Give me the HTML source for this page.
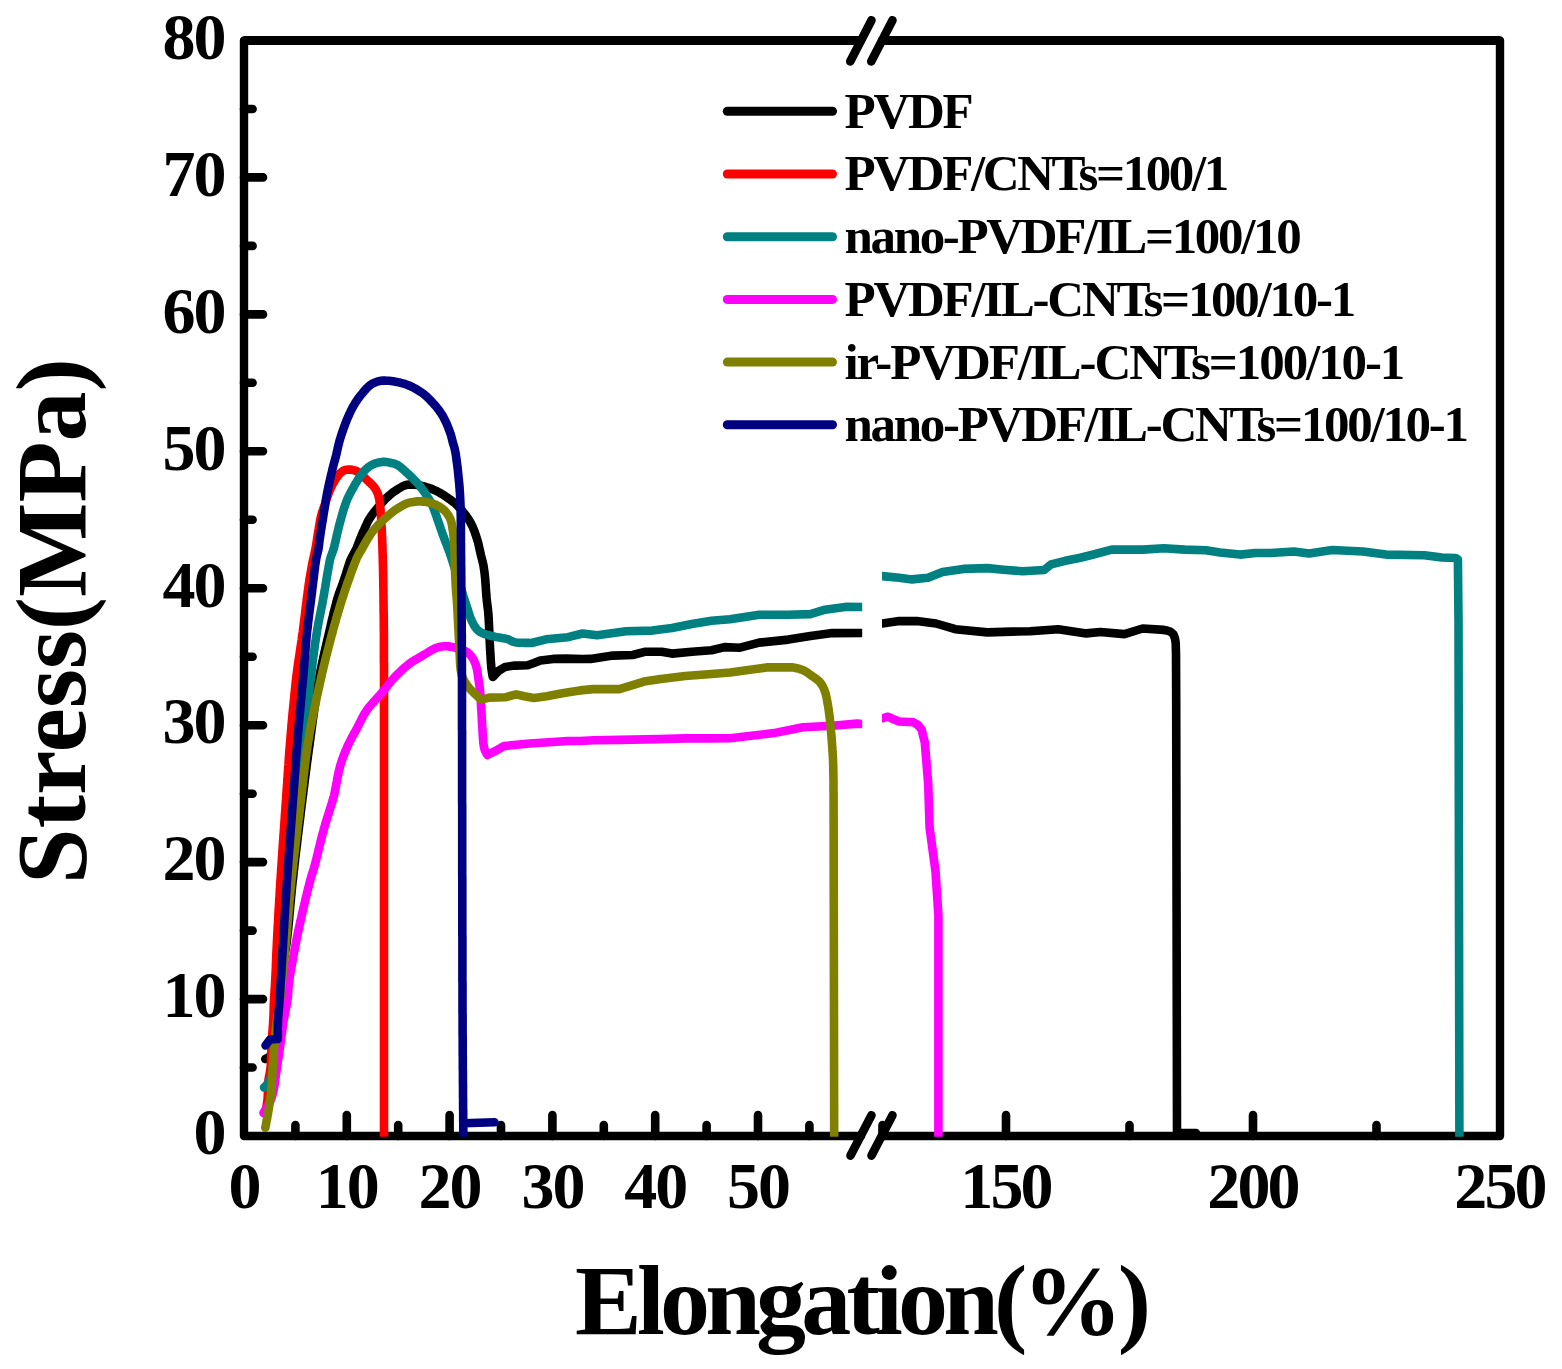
<!DOCTYPE html>
<html><head><meta charset="utf-8"><title>Stress-Elongation</title><style>html,body{margin:0;padding:0;background:#fff;}svg{display:block;}</style></head><body>
<svg width="1562" height="1369" viewBox="0 0 1562 1369">
<defs><clipPath id="c1"><rect x="0" y="0" width="862.2" height="1136.7"/></clipPath><clipPath id="c2"><rect x="882" y="0" width="700" height="1136.7"/></clipPath></defs>
<rect width="100%" height="100%" fill="#fff"/>
<path d="M861,40.5 L244.0,40.5 L244.0,1136.0 L861,1136.0" fill="none" stroke="#000" stroke-linecap="round" stroke-linejoin="round" stroke-width="8.4"/>
<path d="M882,40.5 L1500.0,40.5 L1500.0,1136.0 L882,1136.0" fill="none" stroke="#000" stroke-linecap="round" stroke-linejoin="round" stroke-width="8.4"/>
<path d="M244.0,40.5 L861,40.5 M882,40.5 L1500.0,40.5" stroke="#000" stroke-width="9" fill="none"/>
<line x1="850.2" y1="61.5" x2="871.5" y2="20.2" stroke="#000" stroke-width="8.6" stroke-linecap="round"/>
<line x1="871.2" y1="61.5" x2="892.5" y2="20.2" stroke="#000" stroke-width="8.6" stroke-linecap="round"/>
<line x1="850.5" y1="1155.6" x2="871.5" y2="1115.2" stroke="#000" stroke-width="8.6" stroke-linecap="round"/>
<line x1="871.5" y1="1155.6" x2="892.5" y2="1115.2" stroke="#000" stroke-width="8.6" stroke-linecap="round"/>
<path d="M244.0,1067.5 L252.6,1067.5 M244.0,999.1 L263,999.1 M244.0,930.6 L252.6,930.6 M244.0,862.1 L263,862.1 M244.0,793.7 L252.6,793.7 M244.0,725.2 L263,725.2 M244.0,656.7 L252.6,656.7 M244.0,588.2 L263,588.2 M244.0,519.8 L252.6,519.8 M244.0,451.3 L263,451.3 M244.0,382.8 L252.6,382.8 M244.0,314.4 L263,314.4 M244.0,245.9 L252.6,245.9 M244.0,177.4 L263,177.4 M244.0,109.0 L252.6,109.0 M295.4,1136.0 L295.4,1125 M346.8,1136.0 L346.8,1115 M398.2,1136.0 L398.2,1125 M449.6,1136.0 L449.6,1115 M501.0,1136.0 L501.0,1125 M552.4,1136.0 L552.4,1115 M603.8,1136.0 L603.8,1125 M655.2,1136.0 L655.2,1115 M706.6,1136.0 L706.6,1125 M758.0,1136.0 L758.0,1115 M809.4,1136.0 L809.4,1125 M882.5,1136.0 L882.5,1125 M1006.0,1136.0 L1006.0,1115 M1129.5,1136.0 L1129.5,1125 M1253.0,1136.0 L1253.0,1115 M1376.5,1136.0 L1376.5,1125" stroke="#000" stroke-width="8.6" stroke-linecap="round" fill="none"/>
<path d="M265.3,1059.0 L267.1,1058.2 L268.7,1057.2 L270.1,1055.8 L271.1,1054.2 L271.9,1052.4 L272.4,1050.5 L272.9,1048.5 L273.2,1046.6 L273.5,1044.6 L273.8,1042.6 L274.1,1040.6 L274.3,1038.6 L274.5,1036.6 L274.7,1034.6 L274.9,1032.6 L275.1,1030.6 L275.2,1028.6 L275.4,1026.6 L275.6,1024.6 L275.8,1022.7 L275.9,1020.7 L276.1,1018.7 L276.2,1016.7 L276.4,1014.7 L276.5,1012.7 L276.6,1010.7 L276.7,1008.7 L276.9,1006.7 L277.0,1004.7 L277.2,1002.7 L277.4,1000.7 L277.6,998.7 L277.8,996.7 L278.1,994.7 L278.3,992.7 L278.5,990.7 L278.8,988.7 L279.0,986.7 L279.3,984.8 L279.6,982.8 L279.9,980.8 L280.2,978.8 L280.5,976.8 L280.9,974.9 L281.2,972.9 L281.6,970.9 L282.0,969.0 L282.4,967.0 L282.8,965.0 L283.1,963.1 L283.5,961.1 L283.9,959.1 L284.3,957.2 L284.6,955.2 L285.0,953.2 L285.3,951.2 L285.6,949.3 L285.9,947.3 L286.2,945.3 L286.5,943.3 L286.7,941.3 L287.0,939.3 L287.2,937.3 L287.5,935.4 L287.7,933.4 L287.9,931.4 L288.1,929.4 L288.3,927.4 L288.5,925.4 L288.7,923.4 L288.9,921.4 L289.1,919.4 L289.2,917.4 L289.4,915.4 L289.6,913.4 L289.8,911.4 L290.0,909.4 L290.1,907.4 L290.3,905.4 L290.5,903.4 L290.7,901.4 L290.9,899.4 L291.0,897.4 L291.2,895.5 L291.4,893.5 L291.6,891.5 L291.8,889.5 L292.0,887.5 L292.2,885.5 L292.4,883.5 L292.6,881.5 L292.9,879.5 L293.1,877.5 L293.3,875.5 L293.5,873.5 L293.7,871.5 L294.0,869.6 L294.2,867.6 L294.4,865.6 L294.7,863.6 L294.9,861.6 L295.1,859.6 L295.3,857.6 L295.6,855.6 L295.8,853.6 L296.0,851.6 L296.3,849.6 L296.5,847.7 L296.8,845.7 L297.0,843.7 L297.2,841.7 L297.5,839.7 L297.7,837.7 L297.9,835.7 L298.2,833.7 L298.4,831.7 L298.7,829.8 L298.9,827.8 L299.1,825.8 L299.4,823.8 L299.6,821.8 L299.9,819.8 L300.1,817.8 L300.4,815.8 L300.6,813.8 L300.8,811.8 L301.1,809.9 L301.3,807.9 L301.6,805.9 L301.8,803.9 L302.1,801.9 L302.3,799.9 L302.6,797.9 L302.8,795.9 L303.1,794.0 L303.3,792.0 L303.5,790.0 L303.8,788.0 L304.1,786.0 L304.3,784.0 L304.6,782.0 L304.8,780.0 L305.1,778.0 L305.3,776.1 L305.6,774.1 L305.8,772.1 L306.1,770.1 L306.4,768.1 L306.6,766.1 L306.9,764.1 L307.1,762.2 L307.4,760.2 L307.7,758.2 L307.9,756.2 L308.2,754.2 L308.5,752.2 L308.7,750.2 L309.0,748.3 L309.3,746.3 L309.6,744.3 L309.8,742.3 L310.1,740.3 L310.4,738.3 L310.6,736.3 L310.9,734.4 L311.2,732.4 L311.4,730.4 L311.7,728.4 L312.0,726.4 L312.2,724.4 L312.5,722.4 L312.8,720.5 L313.0,718.5 L313.3,716.5 L313.6,714.5 L313.9,712.5 L314.1,710.5 L314.4,708.5 L314.7,706.6 L315.0,704.6 L315.3,702.6 L315.5,700.6 L315.8,698.6 L316.1,696.6 L316.4,694.7 L316.7,692.7 L317.0,690.7 L317.3,688.7 L317.7,686.7 L318.0,684.8 L318.3,682.8 L318.7,680.8 L319.0,678.8 L319.4,676.9 L319.7,674.9 L320.1,672.9 L320.5,671.0 L320.9,669.0 L321.3,667.0 L321.7,665.1 L322.1,663.1 L322.5,661.2 L323.0,659.2 L323.4,657.2 L323.8,655.3 L324.3,653.3 L324.7,651.4 L325.2,649.4 L325.6,647.5 L326.1,645.5 L326.5,643.6 L327.0,641.6 L327.5,639.7 L327.9,637.7 L328.4,635.8 L328.8,633.8 L329.3,631.9 L329.7,629.9 L330.1,628.0 L330.6,626.0 L331.0,624.1 L331.5,622.1 L331.9,620.1 L332.4,618.2 L332.9,616.2 L333.3,614.3 L333.8,612.3 L334.3,610.4 L334.8,608.5 L335.3,606.5 L335.8,604.6 L336.3,602.6 L336.8,600.7 L337.4,598.8 L338.0,596.9 L338.6,595.0 L339.2,593.1 L339.9,591.2 L340.6,589.3 L341.3,587.4 L342.0,585.5 L342.7,583.7 L343.4,581.8 L344.0,579.9 L344.6,578.0 L345.3,576.1 L345.9,574.2 L346.5,572.3 L347.1,570.3 L347.7,568.4 L348.3,566.5 L348.9,564.6 L349.5,562.7 L350.2,560.8 L351.0,559.0 L351.9,557.2 L352.8,555.4 L353.8,553.7 L354.7,551.9 L355.6,550.1 L356.5,548.3 L357.2,546.5 L358.0,544.6 L358.7,542.7 L359.4,540.9 L360.1,539.0 L360.9,537.1 L361.6,535.3 L362.4,533.4 L363.2,531.6 L364.1,529.8 L364.9,528.0 L365.7,526.1 L366.6,524.3 L367.4,522.5 L368.3,520.7 L369.3,519.0 L370.4,517.3 L371.5,515.6 L372.7,514.0 L373.9,512.4 L375.2,510.9 L376.4,509.3 L377.7,507.8 L379.0,506.2 L380.3,504.7 L381.6,503.2 L382.9,501.7 L384.3,500.2 L385.7,498.8 L387.1,497.4 L388.6,496.0 L390.1,494.7 L391.6,493.4 L393.2,492.2 L394.9,491.1 L396.5,490.0 L398.3,488.9 L400.0,487.9 L401.7,486.9 L403.4,485.9 L405.2,485.2 L407.2,484.8 L409.1,484.6 L411.1,484.6 L413.1,484.6 L415.1,484.8 L417.1,485.1 L419.1,485.4 L421.0,485.8 L423.0,486.2 L424.9,486.7 L426.9,487.3 L428.8,487.9 L430.7,488.5 L432.5,489.3 L434.3,490.1 L436.2,490.9 L437.9,491.8 L439.7,492.8 L441.4,493.8 L443.2,494.8 L444.8,495.9 L446.5,497.0 L448.1,498.2 L449.8,499.3 L451.4,500.5 L453.0,501.7 L454.6,502.9 L456.1,504.3 L457.5,505.7 L458.9,507.1 L460.2,508.6 L461.5,510.1 L462.8,511.6 L464.1,513.2 L465.4,514.8 L466.5,516.4 L467.7,518.0 L468.7,519.7 L469.8,521.4 L470.8,523.2 L471.7,524.9 L472.6,526.7 L473.4,528.6 L474.1,530.4 L474.8,532.3 L475.4,534.2 L476.1,536.1 L476.7,538.0 L477.3,539.9 L477.9,541.8 L478.4,543.8 L478.8,545.7 L479.2,547.7 L479.7,549.6 L480.1,551.6 L480.6,553.6 L481.0,555.5 L481.5,557.4 L482.0,559.4 L482.5,561.3 L483.0,563.3 L483.4,565.2 L483.7,567.2 L484.0,569.2 L484.3,571.2 L484.6,573.2 L484.8,575.2 L485.0,577.1 L485.2,579.1 L485.3,581.1 L485.5,583.1 L485.6,585.1 L485.8,587.1 L485.9,589.1 L486.0,591.1 L486.2,593.1 L486.3,595.1 L486.5,597.1 L486.7,599.1 L486.9,601.1 L487.1,603.1 L487.4,605.1 L487.6,607.1 L487.9,609.1 L488.1,611.1 L488.3,613.1 L488.4,615.1 L488.6,617.0 L488.7,619.0 L488.8,621.1 L488.9,623.1 L489.0,625.1 L489.1,627.1 L489.2,629.1 L489.3,631.1 L489.3,633.1 L489.4,635.1 L489.5,637.1 L489.6,639.1 L489.7,641.1 L489.8,643.1 L489.9,645.1 L490.0,647.1 L490.1,649.1 L490.2,651.1 L490.3,653.1 L490.5,655.1 L490.6,657.1 L490.7,659.1 L490.8,661.1 L491.0,663.1 L491.1,665.1 L491.3,667.1 L491.5,669.1 L491.8,671.0 L492.1,673.0 L492.4,675.0 L492.8,677.0 L498.8,670.7 L505.2,666.9 L514.8,665.6 L527.6,665.3 L534.0,663.0 L540.4,660.5 L553.2,658.9 L566.0,658.6 L582.6,659.0 L590.5,658.9 L612.9,655.6 L632.6,655.0 L645.7,651.7 L661.5,651.7 L672.0,653.6 L691.8,651.7 L711.5,650.3 L724.6,647.1 L740.0,647.7 L759.2,642.6 L788.4,639.6 L810.4,636.0 L832.3,633.1 L870.0,633.0" fill="none" stroke="#000000" stroke-width="8.6" stroke-linejoin="round" stroke-linecap="round" clip-path="url(#c1)"/>
<path d="M876.0,623.5 L882.2,623.5 L899.1,621.1 L916.8,621.1 L936.0,623.5 L955.3,629.2 L987.4,632.4 L1011.5,631.6 L1030.0,631.3 L1058.2,629.2 L1086.3,633.4 L1100.4,632.0 L1124.4,634.1 L1142.7,628.5 L1163.8,629.9 L1167.0,630.5 L1170.7,631.8 L1173.5,634.4 L1175.0,638.5 L1175.7,643.0 L1176.0,654.0 L1176.2,700.0 L1177.0,1133.0 L1196.0,1133.0" fill="none" stroke="#000000" stroke-width="8.6" stroke-linejoin="round" stroke-linecap="round" clip-path="url(#c2)"/>
<path d="M265.3,1112.5 L265.7,1110.5 L266.1,1108.6 L266.5,1106.6 L266.8,1104.6 L267.1,1102.7 L267.4,1100.7 L267.6,1098.7 L267.7,1096.7 L267.8,1094.7 L267.9,1092.7 L267.9,1090.7 L268.0,1088.7 L268.1,1086.7 L268.1,1084.7 L268.2,1082.7 L268.4,1080.7 L268.7,1078.7 L269.0,1076.7 L269.4,1074.8 L269.8,1072.8 L270.2,1070.9 L270.4,1068.9 L270.6,1066.9 L270.8,1064.9 L270.9,1062.9 L271.0,1060.9 L271.0,1058.9 L271.1,1056.9 L271.2,1054.9 L271.3,1052.9 L271.4,1050.9 L271.5,1048.9 L271.6,1046.9 L271.7,1044.9 L271.8,1042.9 L271.9,1040.9 L272.0,1038.9 L272.1,1036.9 L272.2,1034.9 L272.4,1032.9 L272.5,1030.9 L272.7,1028.9 L272.8,1026.9 L273.0,1024.9 L273.1,1022.9 L273.2,1020.9 L273.3,1018.9 L273.4,1016.9 L273.5,1014.9 L273.6,1012.9 L273.6,1010.9 L273.7,1008.9 L273.7,1006.9 L273.8,1004.9 L273.9,1002.9 L274.0,1000.9 L274.1,998.9 L274.2,996.9 L274.3,994.9 L274.5,992.9 L274.6,990.9 L274.7,988.9 L274.9,986.9 L275.0,984.9 L275.1,982.9 L275.2,981.0 L275.3,979.0 L275.4,977.0 L275.5,975.0 L275.6,973.0 L275.7,971.0 L275.8,969.0 L275.9,967.0 L275.9,965.0 L276.0,962.9 L276.1,960.9 L276.2,958.9 L276.3,956.9 L276.3,954.9 L276.4,952.9 L276.5,950.9 L276.6,948.9 L276.7,946.9 L276.8,944.9 L276.9,943.0 L277.0,941.0 L277.1,939.0 L277.2,937.0 L277.3,935.0 L277.4,933.0 L277.5,931.0 L277.6,929.0 L277.7,927.0 L277.9,925.0 L278.0,923.0 L278.1,921.0 L278.2,919.0 L278.3,917.0 L278.4,915.0 L278.5,913.0 L278.6,911.0 L278.7,909.0 L278.9,907.0 L279.0,905.0 L279.1,903.0 L279.2,901.0 L279.3,899.0 L279.5,897.0 L279.6,895.0 L279.7,893.0 L279.8,891.0 L279.9,889.0 L280.1,887.0 L280.2,885.0 L280.3,883.0 L280.4,881.0 L280.6,879.0 L280.7,877.0 L280.8,875.0 L281.0,873.0 L281.1,871.0 L281.2,869.0 L281.4,867.0 L281.5,865.0 L281.6,863.0 L281.8,861.0 L281.9,859.0 L282.0,857.0 L282.2,855.0 L282.3,853.0 L282.4,851.0 L282.6,849.0 L282.7,847.0 L282.8,845.0 L283.0,843.0 L283.1,841.0 L283.3,839.0 L283.4,837.0 L283.5,835.0 L283.7,833.1 L283.8,831.1 L284.0,829.1 L284.1,827.1 L284.2,825.1 L284.4,823.1 L284.5,821.1 L284.7,819.1 L284.8,817.1 L284.9,815.1 L285.1,813.1 L285.2,811.1 L285.4,809.1 L285.5,807.1 L285.6,805.1 L285.8,803.1 L285.9,801.1 L286.1,799.1 L286.2,797.1 L286.3,795.1 L286.5,793.1 L286.6,791.1 L286.7,789.1 L286.9,787.1 L287.0,785.1 L287.2,783.1 L287.3,781.1 L287.4,779.1 L287.6,777.1 L287.7,775.1 L287.8,773.1 L288.0,771.1 L288.1,769.1 L288.2,767.1 L288.4,765.1 L288.5,763.2 L288.7,761.2 L288.8,759.2 L288.9,757.2 L289.1,755.2 L289.2,753.2 L289.4,751.2 L289.5,749.2 L289.7,747.2 L289.9,745.2 L290.0,743.2 L290.2,741.2 L290.4,739.2 L290.5,737.2 L290.7,735.2 L290.9,733.2 L291.0,731.2 L291.2,729.2 L291.4,727.2 L291.5,725.2 L291.7,723.2 L291.9,721.2 L292.1,719.3 L292.3,717.3 L292.4,715.3 L292.6,713.3 L292.8,711.3 L293.0,709.3 L293.2,707.3 L293.4,705.3 L293.6,703.3 L293.8,701.3 L294.0,699.3 L294.2,697.3 L294.4,695.3 L294.6,693.3 L294.8,691.4 L295.0,689.4 L295.2,687.4 L295.4,685.4 L295.6,683.4 L295.8,681.4 L296.1,679.4 L296.3,677.4 L296.5,675.4 L296.8,673.5 L297.1,671.5 L297.3,669.5 L297.6,667.5 L297.9,665.5 L298.1,663.5 L298.4,661.6 L298.7,659.6 L299.0,657.6 L299.3,655.6 L299.6,653.6 L299.9,651.6 L300.2,649.7 L300.5,647.7 L300.8,645.7 L301.1,643.7 L301.4,641.7 L301.7,639.8 L301.9,637.8 L302.2,635.8 L302.5,633.8 L302.8,631.8 L303.0,629.9 L303.3,627.9 L303.5,625.9 L303.8,623.9 L304.0,621.9 L304.3,619.9 L304.5,617.9 L304.8,615.9 L305.0,614.0 L305.2,612.0 L305.5,610.0 L305.7,608.0 L306.0,606.0 L306.2,604.0 L306.5,602.0 L306.7,600.0 L306.9,598.1 L307.2,596.1 L307.5,594.1 L307.7,592.1 L308.0,590.1 L308.3,588.1 L308.5,586.2 L308.8,584.2 L309.1,582.2 L309.4,580.2 L309.7,578.2 L310.1,576.3 L310.4,574.3 L310.7,572.3 L311.1,570.3 L311.4,568.4 L311.8,566.4 L312.1,564.4 L312.5,562.5 L312.9,560.5 L313.4,558.6 L313.8,556.6 L314.3,554.7 L314.7,552.7 L315.1,550.7 L315.5,548.8 L315.8,546.8 L316.2,544.8 L316.5,542.9 L316.8,540.9 L317.1,538.9 L317.4,536.9 L317.7,534.9 L318.0,533.0 L318.3,531.0 L318.7,529.0 L319.0,527.0 L319.3,525.1 L319.7,523.1 L320.0,521.1 L320.4,519.2 L320.8,517.2 L321.3,515.3 L321.8,513.3 L322.4,511.4 L323.1,509.5 L323.8,507.6 L324.4,505.8 L325.1,503.9 L325.7,502.0 L326.3,500.1 L326.9,498.2 L327.6,496.3 L328.2,494.4 L328.9,492.5 L329.7,490.6 L330.5,488.8 L331.3,487.0 L332.2,485.2 L333.1,483.4 L334.1,481.7 L335.1,480.0 L336.2,478.3 L337.4,476.6 L338.6,475.0 L339.8,473.5 L341.3,472.2 L342.8,471.0 L344.6,470.2 L346.5,469.7 L348.5,469.5 L350.4,469.6 L352.4,469.8 L354.3,470.3 L356.2,470.9 L358.0,471.8 L359.6,472.9 L361.2,474.1 L362.6,475.5 L364.0,477.0 L365.4,478.4 L366.8,479.8 L368.3,481.2 L369.7,482.5 L371.2,483.9 L372.6,485.3 L373.9,486.8 L375.1,488.4 L376.1,490.1 L377.0,491.9 L377.8,493.7 L378.4,495.6 L378.9,497.6 L379.3,499.5 L379.6,501.5 L379.8,503.5 L380.1,505.5 L380.3,507.5 L380.5,509.5 L380.6,511.4 L380.8,513.4 L380.9,515.4 L381.1,517.4 L381.2,519.4 L381.3,521.4 L381.4,523.4 L381.5,525.4 L381.6,527.4 L381.7,529.4 L381.8,531.4 L381.9,533.4 L382.0,535.4 L382.1,537.4 L382.2,539.4 L382.2,541.4 L382.3,543.4 L382.4,545.4 L382.4,547.4 L382.5,549.4 L382.5,551.4 L382.6,553.4 L382.7,555.4 L382.7,557.4 L382.8,559.4 L382.8,561.4 L382.9,563.4 L382.9,565.4 L383.0,567.4 L383.0,569.4 L383.1,571.4 L383.1,573.4 L383.1,575.5 L383.2,577.5 L383.2,579.5 L383.3,581.5 L383.3,583.5 L383.3,585.5 L383.3,587.5 L383.4,589.5 L383.4,591.5 L383.4,593.5 L383.5,595.5 L383.5,597.5 L383.5,599.5 L383.5,601.5 L383.5,603.5 L383.6,605.5 L383.6,607.5 L383.6,609.5 L383.6,611.5 L383.7,613.5 L383.7,615.5 L383.7,617.5 L383.8,619.5 L383.8,621.5 L383.8,623.5 L383.8,625.5 L383.8,627.5 L383.8,629.5 L383.9,631.5 L383.9,633.5 L383.9,635.5 L383.9,637.5 L383.9,639.5 L383.9,641.5 L383.9,643.5 L383.9,645.5 L383.9,647.5 L383.9,649.5 L383.9,651.5 L383.9,653.5 L383.9,655.5 L383.9,657.5 L383.9,659.5 L383.9,661.5 L384.0,663.5 L384.0,665.5 L384.0,667.5 L384.0,669.5 L384.0,671.5 L384.0,673.5 L384.0,675.5 L384.0,677.5 L384.0,679.5 L384.0,681.6 L384.0,683.6 L384.0,685.6 L384.0,687.6 L384.0,689.6 L384.0,691.6 L384.0,693.6 L384.0,695.6 L384.0,697.6 L384.0,699.6 L384.0,701.6 L384.0,703.6 L384.0,705.6 L384.0,707.6 L384.0,709.6 L384.0,711.6 L384.0,713.6 L384.0,715.6 L384.0,717.6 L384.0,719.6 L384.0,721.6 L384.0,723.6 L384.0,725.6 L384.0,727.6 L384.0,729.6 L384.0,731.6 L384.0,733.6 L384.0,735.6 L384.0,737.6 L384.0,739.6 L384.0,741.6 L384.0,743.6 L384.0,745.6 L384.0,747.6 L384.0,749.6 L384.0,751.6 L384.0,753.6 L384.0,755.6 L384.0,757.6 L384.0,759.6 L384.0,761.6 L384.0,763.6 L384.0,765.6 L384.0,767.6 L384.0,769.6 L384.0,771.6 L384.0,773.6 L384.0,775.6 L384.0,777.6 L384.0,779.6 L384.0,781.6 L384.0,783.7 L384.0,785.7 L384.0,787.7 L384.0,789.7 L384.0,791.7 L384.0,793.7 L384.0,795.7 L384.0,797.7 L384.0,799.7 L384.0,801.7 L384.0,803.7 L384.0,805.7 L384.0,807.7 L384.0,809.7 L384.0,811.7 L384.0,813.7 L384.0,815.7 L384.0,817.7 L384.0,819.7 L384.0,821.7 L384.0,823.7 L384.0,825.7 L384.0,827.7 L384.0,829.7 L384.0,831.7 L384.0,833.7 L384.0,835.7 L384.0,837.7 L384.0,839.7 L384.0,841.7 L384.0,843.7 L384.0,845.7 L384.0,847.7 L384.0,849.7 L384.0,851.7 L384.0,853.7 L384.0,855.7 L384.0,857.7 L384.0,859.7 L384.0,861.7 L384.0,863.7 L384.0,865.7 L384.0,867.7 L384.0,869.7 L384.0,871.7 L384.0,873.7 L384.0,875.7 L384.0,877.7 L384.0,879.7 L384.0,881.7 L384.0,883.7 L384.0,885.8 L384.0,887.8 L384.0,889.8 L384.0,891.8 L384.0,893.8 L384.0,895.8 L384.0,897.8 L384.0,899.8 L384.0,901.8 L384.0,903.8 L384.0,905.8 L384.0,907.8 L384.0,909.8 L384.0,911.8 L384.0,913.8 L384.0,915.8 L384.0,917.8 L384.0,919.8 L384.0,921.8 L384.0,923.8 L384.0,925.8 L384.0,927.8 L384.0,929.8 L384.0,931.8 L384.0,933.8 L384.0,935.8 L384.0,937.8 L384.0,939.8 L384.0,941.8 L384.0,943.8 L384.0,945.8 L384.0,947.8 L384.0,949.8 L384.0,951.8 L384.0,953.8 L384.0,955.8 L384.0,957.8 L384.0,959.8 L384.0,961.8 L384.0,963.8 L384.0,965.8 L384.0,967.8 L384.0,969.8 L384.0,971.8 L384.0,973.8 L384.0,975.8 L384.0,977.8 L384.0,979.8 L384.0,981.8 L384.0,983.8 L384.0,985.8 L384.0,987.9 L384.0,989.9 L384.0,991.9 L384.0,993.9 L384.0,995.9 L384.0,997.9 L384.0,999.9 L384.0,1001.9 L384.0,1003.9 L384.0,1005.9 L384.0,1007.9 L384.0,1009.9 L384.0,1011.9 L384.0,1013.9 L384.0,1015.9 L384.0,1017.9 L384.0,1019.9 L384.0,1021.9 L384.0,1023.9 L384.0,1025.9 L384.0,1027.9 L384.0,1029.9 L384.0,1031.9 L384.0,1033.9 L384.0,1035.9 L384.0,1037.9 L384.0,1039.9 L384.0,1041.9 L384.0,1043.9 L384.0,1045.9 L384.0,1047.9 L384.0,1049.9 L384.0,1051.9 L384.0,1053.9 L384.0,1055.9 L384.0,1057.9 L384.0,1059.9 L384.0,1061.9 L384.0,1063.9 L384.0,1065.9 L384.0,1067.9 L384.0,1069.9 L384.0,1071.9 L384.0,1073.9 L384.0,1075.9 L384.0,1077.9 L384.0,1079.9 L384.0,1081.9 L384.0,1083.9 L384.0,1085.9 L384.0,1087.9 L384.0,1090.0 L384.0,1092.0 L384.0,1094.0 L384.0,1096.0 L384.0,1098.0 L384.0,1100.0 L384.0,1102.0 L384.0,1104.0 L384.0,1106.0 L384.0,1108.0 L384.0,1110.0 L384.0,1112.0 L384.0,1114.0 L384.0,1116.0 L384.0,1118.0 L384.0,1120.0 L384.0,1122.0 L384.0,1124.0 L384.0,1126.0 L384.0,1128.0 L384.0,1130.0 L384.0,1132.0 L384.0,1134.0 L384.0,1136.0 L384.0,1138.0 L384.0,1140.0" fill="none" stroke="#FF0000" stroke-width="8.6" stroke-linejoin="round" stroke-linecap="round" clip-path="url(#c1)"/>
<path d="M264.0,1087.5 L265.5,1086.1 L266.8,1084.7 L268.0,1083.1 L269.1,1081.4 L269.9,1079.6 L270.6,1077.8 L271.2,1075.9 L271.7,1073.9 L272.1,1072.0 L272.5,1070.0 L272.8,1068.0 L273.0,1066.0 L273.2,1064.0 L273.4,1062.0 L273.6,1060.0 L273.7,1058.0 L273.9,1056.1 L274.1,1054.1 L274.3,1052.1 L274.5,1050.1 L274.7,1048.1 L274.9,1046.1 L275.2,1044.1 L275.4,1042.1 L275.6,1040.1 L275.9,1038.1 L276.1,1036.2 L276.4,1034.2 L276.6,1032.2 L276.8,1030.2 L277.1,1028.2 L277.3,1026.2 L277.5,1024.2 L277.8,1022.2 L278.0,1020.2 L278.2,1018.2 L278.4,1016.3 L278.6,1014.3 L278.8,1012.3 L279.0,1010.3 L279.2,1008.3 L279.4,1006.3 L279.6,1004.3 L279.8,1002.3 L280.0,1000.3 L280.1,998.3 L280.3,996.3 L280.4,994.3 L280.6,992.3 L280.7,990.3 L280.8,988.3 L281.0,986.3 L281.1,984.3 L281.2,982.3 L281.3,980.3 L281.4,978.3 L281.5,976.3 L281.6,974.3 L281.8,972.3 L281.9,970.3 L282.0,968.3 L282.1,966.3 L282.2,964.3 L282.3,962.3 L282.4,960.3 L282.5,958.3 L282.6,956.3 L282.7,954.3 L282.8,952.3 L282.9,950.3 L283.0,948.3 L283.2,946.3 L283.3,944.3 L283.4,942.3 L283.5,940.3 L283.7,938.3 L283.8,936.3 L283.9,934.3 L284.1,932.3 L284.2,930.3 L284.4,928.3 L284.5,926.4 L284.6,924.4 L284.8,922.4 L284.9,920.4 L285.1,918.4 L285.2,916.4 L285.3,914.4 L285.5,912.4 L285.6,910.4 L285.8,908.4 L285.9,906.4 L286.1,904.4 L286.2,902.4 L286.4,900.4 L286.5,898.4 L286.7,896.4 L286.8,894.4 L287.0,892.4 L287.2,890.4 L287.3,888.4 L287.5,886.4 L287.6,884.4 L287.8,882.4 L288.0,880.4 L288.1,878.4 L288.3,876.4 L288.5,874.4 L288.6,872.4 L288.8,870.4 L289.0,868.4 L289.2,866.5 L289.3,864.5 L289.5,862.5 L289.7,860.5 L289.9,858.5 L290.0,856.5 L290.2,854.5 L290.4,852.5 L290.6,850.5 L290.8,848.5 L290.9,846.5 L291.1,844.5 L291.3,842.5 L291.5,840.5 L291.7,838.5 L291.9,836.5 L292.1,834.5 L292.3,832.5 L292.5,830.6 L292.7,828.6 L292.9,826.6 L293.0,824.6 L293.2,822.6 L293.4,820.6 L293.6,818.6 L293.8,816.6 L294.0,814.6 L294.2,812.6 L294.4,810.6 L294.6,808.6 L294.9,806.6 L295.1,804.6 L295.3,802.7 L295.5,800.7 L295.7,798.7 L295.9,796.7 L296.1,794.7 L296.3,792.7 L296.5,790.7 L296.8,788.7 L297.0,786.7 L297.2,784.7 L297.4,782.7 L297.7,780.8 L297.9,778.8 L298.1,776.8 L298.4,774.8 L298.6,772.8 L298.9,770.8 L299.2,768.8 L299.5,766.9 L299.8,764.9 L300.1,762.9 L300.5,760.9 L300.9,759.0 L301.3,757.0 L301.7,755.0 L302.1,753.1 L302.4,751.1 L302.8,749.1 L303.1,747.2 L303.4,745.2 L303.7,743.2 L304.0,741.2 L304.2,739.2 L304.5,737.2 L304.7,735.3 L304.9,733.3 L305.1,731.3 L305.4,729.3 L305.6,727.3 L305.8,725.3 L306.0,723.3 L306.2,721.3 L306.4,719.3 L306.6,717.3 L306.8,715.3 L307.0,713.3 L307.2,711.4 L307.4,709.4 L307.6,707.4 L307.8,705.4 L308.0,703.4 L308.2,701.4 L308.4,699.4 L308.6,697.4 L308.8,695.4 L309.0,693.4 L309.2,691.4 L309.4,689.4 L309.7,687.5 L309.9,685.5 L310.1,683.5 L310.3,681.5 L310.6,679.5 L310.8,677.5 L311.0,675.5 L311.3,673.5 L311.5,671.5 L311.8,669.5 L312.0,667.6 L312.2,665.6 L312.5,663.6 L312.7,661.6 L313.0,659.6 L313.2,657.6 L313.5,655.6 L313.8,653.7 L314.0,651.7 L314.3,649.7 L314.6,647.7 L314.8,645.7 L315.1,643.7 L315.4,641.7 L315.7,639.8 L316.0,637.8 L316.3,635.8 L316.6,633.8 L316.9,631.8 L317.2,629.9 L317.6,627.9 L317.9,625.9 L318.3,624.0 L318.6,622.0 L319.0,620.0 L319.4,618.1 L319.8,616.1 L320.2,614.1 L320.6,612.2 L321.0,610.2 L321.4,608.2 L321.8,606.3 L322.2,604.3 L322.6,602.3 L322.9,600.4 L323.3,598.4 L323.6,596.4 L324.0,594.5 L324.3,592.5 L324.6,590.5 L325.0,588.5 L325.3,586.6 L325.6,584.6 L326.0,582.6 L326.3,580.6 L326.6,578.7 L326.9,576.7 L327.3,574.7 L327.6,572.7 L327.9,570.8 L328.3,568.8 L328.6,566.8 L329.0,564.8 L329.4,562.9 L329.7,560.9 L330.2,559.0 L330.7,557.0 L331.4,555.2 L332.1,553.3 L332.8,551.5 L333.4,549.6 L334.0,547.6 L334.5,545.7 L334.9,543.7 L335.4,541.8 L335.8,539.8 L336.3,537.9 L336.7,535.9 L337.1,534.0 L337.6,532.0 L338.1,530.1 L338.5,528.1 L339.0,526.2 L339.5,524.2 L340.0,522.3 L340.5,520.4 L341.1,518.4 L341.6,516.5 L342.2,514.6 L342.7,512.7 L343.3,510.8 L343.9,508.8 L344.5,506.9 L345.2,505.0 L345.8,503.1 L346.5,501.3 L347.2,499.4 L348.0,497.6 L348.9,495.8 L349.8,494.0 L350.8,492.2 L351.7,490.5 L352.7,488.7 L353.7,487.0 L354.6,485.2 L355.6,483.5 L356.7,481.8 L357.7,480.1 L358.8,478.4 L359.9,476.7 L361.0,475.1 L362.2,473.4 L363.5,471.9 L364.8,470.4 L366.2,469.0 L367.7,467.7 L369.3,466.5 L371.0,465.4 L372.8,464.5 L374.6,463.7 L376.5,463.1 L378.4,462.5 L380.4,462.2 L382.4,461.9 L384.3,461.9 L386.3,462.0 L388.3,462.4 L390.2,462.8 L392.2,463.2 L394.1,463.7 L396.0,464.3 L397.7,465.1 L399.3,466.2 L400.9,467.5 L402.4,468.8 L403.9,470.1 L405.4,471.4 L406.9,472.8 L408.4,474.2 L409.8,475.5 L411.3,476.9 L412.7,478.3 L414.1,479.7 L415.5,481.2 L416.9,482.6 L418.3,484.1 L419.6,485.6 L420.8,487.2 L422.0,488.7 L423.2,490.4 L424.3,492.0 L425.4,493.7 L426.5,495.4 L427.6,497.1 L428.7,498.7 L429.7,500.5 L430.7,502.2 L431.6,504.0 L432.5,505.8 L433.3,507.6 L434.0,509.5 L434.7,511.4 L435.4,513.3 L436.0,515.1 L436.7,517.0 L437.3,518.9 L438.0,520.8 L438.7,522.7 L439.3,524.6 L440.0,526.5 L440.6,528.4 L441.3,530.3 L442.0,532.2 L442.6,534.1 L443.3,535.9 L444.0,537.8 L444.7,539.7 L445.4,541.6 L446.2,543.4 L446.9,545.3 L447.6,547.2 L448.3,549.0 L449.0,550.9 L449.7,552.8 L450.3,554.7 L451.0,556.6 L451.6,558.5 L452.2,560.4 L452.8,562.3 L453.4,564.2 L454.0,566.1 L454.6,568.0 L455.2,569.9 L455.8,571.9 L456.5,573.8 L457.1,575.7 L457.7,577.6 L458.3,579.5 L458.9,581.4 L459.5,583.3 L460.1,585.2 L460.7,587.1 L461.2,589.0 L461.8,591.0 L462.4,592.9 L463.0,594.8 L463.6,596.7 L464.2,598.6 L464.8,600.5 L465.4,602.4 L466.0,604.3 L466.7,606.2 L467.3,608.1 L467.9,610.1 L468.5,612.0 L469.1,613.9 L469.7,615.8 L470.4,617.6 L471.2,619.5 L472.0,621.3 L472.9,623.1 L473.8,624.9 L474.8,626.6 L476.0,628.2 L477.3,629.7 L478.8,631.0 L480.4,632.1 L482.2,633.0 L484.0,633.8 L485.9,634.4 L487.9,635.0 L489.8,635.5 L491.7,636.0 L493.7,636.4 L495.6,636.9 L497.6,637.2 L499.6,637.6 L501.5,637.9 L503.5,638.2 L505.5,638.6 L507.4,639.1 L509.2,639.8 L510.9,640.7 L512.7,641.6 L514.6,642.1 L516.5,642.5 L518.5,642.7 L520.5,642.8 L522.5,642.8 L524.5,642.9 L526.5,642.9 L528.5,642.9 L530.5,643.0 L531.5,643.0 L546.0,639.3 L568.0,637.2 L582.6,633.5 L597.1,635.2 L626.0,631.3 L652.3,630.6 L672.0,628.0 L691.8,624.0 L711.5,620.8 L730.0,619.2 L759.2,614.8 L788.4,614.8 L810.4,614.1 L825.0,609.7 L846.9,606.8 L870.0,607.0" fill="none" stroke="#008080" stroke-width="8.6" stroke-linejoin="round" stroke-linecap="round" clip-path="url(#c1)"/>
<path d="M876.0,576.1 L882.2,576.1 L899.1,577.8 L912.0,579.4 L928.0,577.8 L942.5,572.1 L963.4,568.9 L987.4,568.1 L1003.5,569.7 L1022.8,571.3 L1044.1,570.0 L1051.1,564.4 L1065.2,560.8 L1079.3,558.0 L1093.4,554.5 L1111.7,549.6 L1142.7,549.6 L1163.8,548.2 L1184.9,549.6 L1206.0,550.3 L1220.1,552.4 L1240.0,554.6 L1255.4,553.0 L1270.7,553.0 L1293.8,551.5 L1309.1,553.5 L1332.2,550.0 L1362.9,551.5 L1386.0,554.6 L1424.4,555.3 L1441.9,557.5 L1455.5,558.0 L1457.9,559.5 L1458.1,580.0 L1458.5,620.0 L1459.4,1140.0" fill="none" stroke="#008080" stroke-width="8.6" stroke-linejoin="round" stroke-linecap="round" clip-path="url(#c2)"/>
<path d="M263.5,1113.0 L264.5,1111.3 L265.5,1109.5 L266.6,1107.8 L267.6,1106.1 L268.6,1104.4 L269.6,1102.6 L270.4,1100.8 L271.2,1099.0 L271.8,1097.1 L272.4,1095.2 L272.9,1093.2 L273.4,1091.3 L273.8,1089.3 L274.1,1087.3 L274.5,1085.4 L274.8,1083.4 L275.0,1081.4 L275.3,1079.4 L275.6,1077.4 L275.8,1075.4 L276.1,1073.5 L276.4,1071.5 L276.7,1069.5 L277.0,1067.5 L277.3,1065.5 L277.6,1063.5 L277.8,1061.5 L278.1,1059.6 L278.4,1057.6 L278.7,1055.6 L279.0,1053.6 L279.3,1051.6 L279.6,1049.6 L279.9,1047.7 L280.2,1045.7 L280.5,1043.7 L280.7,1041.7 L281.0,1039.7 L281.3,1037.7 L281.5,1035.7 L281.8,1033.8 L282.1,1031.8 L282.3,1029.8 L282.6,1027.8 L282.8,1025.8 L283.1,1023.8 L283.4,1021.8 L283.7,1019.9 L284.1,1017.9 L284.5,1015.9 L284.8,1013.9 L285.2,1012.0 L285.6,1010.0 L286.0,1008.1 L286.4,1006.1 L286.8,1004.1 L287.1,1002.1 L287.4,1000.2 L287.7,998.2 L287.9,996.2 L288.0,994.2 L288.2,992.2 L288.3,990.2 L288.4,988.2 L288.6,986.2 L288.8,984.2 L289.0,982.2 L289.3,980.2 L289.6,978.2 L289.9,976.2 L290.2,974.3 L290.5,972.3 L290.9,970.3 L291.2,968.3 L291.6,966.4 L291.9,964.4 L292.3,962.4 L292.6,960.4 L293.0,958.5 L293.3,956.5 L293.7,954.5 L294.1,952.5 L294.4,950.6 L294.8,948.6 L295.2,946.6 L295.6,944.7 L295.9,942.7 L296.3,940.7 L296.7,938.8 L297.1,936.8 L297.5,934.8 L297.9,932.9 L298.3,930.9 L298.8,928.9 L299.2,927.0 L299.6,925.0 L300.0,923.1 L300.5,921.1 L300.9,919.2 L301.4,917.2 L301.8,915.2 L302.2,913.3 L302.7,911.3 L303.1,909.4 L303.6,907.4 L304.1,905.5 L304.5,903.5 L305.0,901.6 L305.4,899.6 L305.9,897.7 L306.4,895.7 L306.8,893.8 L307.3,891.8 L307.8,889.9 L308.3,887.9 L308.8,886.0 L309.3,884.0 L309.8,882.1 L310.3,880.2 L310.8,878.2 L311.4,876.3 L312.0,874.4 L312.6,872.5 L313.2,870.6 L313.8,868.7 L314.3,866.7 L314.9,864.8 L315.4,862.9 L315.9,860.9 L316.4,859.0 L316.8,857.0 L317.3,855.1 L317.8,853.1 L318.3,851.2 L318.7,849.2 L319.2,847.3 L319.7,845.3 L320.2,843.4 L320.7,841.4 L321.1,839.5 L321.6,837.6 L322.1,835.6 L322.6,833.7 L323.2,831.7 L323.7,829.8 L324.2,827.9 L324.8,826.0 L325.4,824.0 L325.9,822.1 L326.5,820.2 L327.1,818.3 L327.7,816.4 L328.3,814.4 L328.9,812.5 L329.5,810.6 L330.1,808.7 L330.7,806.8 L331.3,804.9 L331.9,803.0 L332.5,801.0 L333.0,799.1 L333.6,797.2 L334.1,795.2 L334.5,793.3 L334.9,791.3 L335.3,789.4 L335.7,787.4 L336.1,785.4 L336.4,783.5 L336.8,781.5 L337.1,779.5 L337.5,777.5 L337.9,775.6 L338.3,773.6 L338.7,771.7 L339.2,769.7 L339.7,767.8 L340.2,765.8 L340.8,763.9 L341.4,762.0 L342.0,760.1 L342.7,758.2 L343.4,756.3 L344.1,754.4 L344.8,752.6 L345.6,750.7 L346.4,748.9 L347.2,747.0 L348.0,745.2 L348.9,743.4 L349.8,741.6 L350.7,739.8 L351.6,738.0 L352.5,736.3 L353.5,734.5 L354.5,732.8 L355.5,731.0 L356.5,729.3 L357.4,727.5 L358.3,725.7 L359.2,723.9 L360.1,722.1 L361.0,720.3 L361.9,718.5 L362.8,716.8 L363.8,715.0 L364.8,713.3 L365.9,711.6 L367.0,710.0 L368.2,708.3 L369.4,706.7 L370.7,705.2 L372.0,703.7 L373.3,702.2 L374.7,700.7 L376.0,699.2 L377.4,697.8 L378.8,696.3 L380.1,694.8 L381.5,693.3 L382.7,691.8 L384.0,690.2 L385.2,688.6 L386.5,687.1 L387.7,685.5 L389.0,683.9 L390.2,682.4 L391.5,680.8 L392.8,679.3 L394.1,677.8 L395.5,676.3 L396.9,674.9 L398.3,673.5 L399.8,672.1 L401.2,670.7 L402.7,669.3 L404.2,668.0 L405.7,666.7 L407.2,665.4 L408.8,664.2 L410.4,663.0 L412.1,661.8 L413.7,660.7 L415.4,659.7 L417.2,658.7 L418.9,657.7 L420.6,656.7 L422.4,655.7 L424.1,654.6 L425.8,653.6 L427.5,652.6 L429.2,651.5 L431.0,650.5 L432.7,649.5 L434.5,648.6 L436.3,647.9 L438.2,647.2 L440.2,646.8 L442.1,646.5 L444.1,646.3 L446.1,646.3 L448.1,646.4 L450.1,646.6 L452.1,646.9 L454.0,647.4 L456.0,647.9 L457.9,648.4 L459.8,649.0 L461.7,649.6 L463.6,650.3 L465.4,651.1 L467.1,652.2 L468.7,653.4 L470.1,654.8 L471.4,656.3 L472.5,657.9 L473.5,659.6 L474.4,661.4 L475.2,663.3 L475.9,665.1 L476.4,667.1 L476.9,669.0 L477.3,671.0 L477.6,673.0 L477.8,674.9 L478.1,676.9 L478.4,678.9 L478.7,680.9 L479.0,682.9 L479.3,684.9 L479.6,686.8 L479.8,688.8 L480.0,690.8 L480.2,692.8 L480.4,694.8 L480.5,696.8 L480.6,698.8 L480.7,700.8 L480.9,702.8 L481.0,704.8 L481.1,706.8 L481.2,708.8 L481.4,710.8 L481.5,712.8 L481.6,714.8 L481.7,716.8 L481.8,718.8 L481.9,720.8 L482.0,722.8 L482.1,724.9 L482.2,726.9 L482.4,728.9 L482.5,730.9 L482.6,732.9 L482.7,734.9 L482.9,736.9 L483.0,738.9 L483.2,740.9 L483.3,742.9 L483.6,744.8 L483.9,746.8 L484.4,748.7 L485.0,750.6 L485.9,752.4 L486.9,754.1 L487.4,755.0 L495.0,751.2 L504.0,746.1 L516.8,744.8 L529.6,743.5 L548.8,742.3 L568.0,741.0 L580.0,741.0 L593.6,740.3 L619.4,739.9 L658.9,739.1 L685.2,738.4 L711.5,738.4 L730.0,738.3 L773.8,733.1 L803.0,727.3 L832.3,725.8 L857.1,723.6 L870.0,724.4" fill="none" stroke="#FF00FF" stroke-width="8.6" stroke-linejoin="round" stroke-linecap="round" clip-path="url(#c1)"/>
<path d="M876.0,718.3 L882.2,718.3 L887.9,716.7 L893.0,719.0 L899.1,721.5 L913.6,722.3 L918.0,725.0 L921.6,729.6 L924.8,742.4 L928.2,783.8 L929.6,827.6 L935.5,871.4 L938.4,915.2 L938.4,1140.0" fill="none" stroke="#FF00FF" stroke-width="8.6" stroke-linejoin="round" stroke-linecap="round" clip-path="url(#c2)"/>
<path d="M265.3,1127.8 L265.7,1125.8 L266.1,1123.9 L266.4,1121.9 L266.8,1119.9 L267.2,1118.0 L267.5,1116.0 L267.9,1114.0 L268.2,1112.0 L268.5,1110.1 L268.9,1108.1 L269.2,1106.1 L269.5,1104.1 L269.8,1102.1 L270.1,1100.1 L270.3,1098.2 L270.6,1096.2 L270.9,1094.2 L271.1,1092.2 L271.3,1090.2 L271.5,1088.2 L271.6,1086.2 L271.8,1084.2 L271.9,1082.2 L272.0,1080.2 L272.1,1078.2 L272.2,1076.2 L272.3,1074.2 L272.4,1072.2 L272.5,1070.2 L272.6,1068.2 L272.8,1066.2 L272.9,1064.2 L273.1,1062.2 L273.2,1060.2 L273.3,1058.2 L273.5,1056.2 L273.7,1054.2 L273.8,1052.2 L274.0,1050.2 L274.1,1048.2 L274.3,1046.2 L274.5,1044.2 L274.7,1042.2 L274.8,1040.2 L275.0,1038.2 L275.2,1036.2 L275.4,1034.2 L275.6,1032.2 L275.8,1030.3 L276.0,1028.3 L276.3,1026.3 L276.5,1024.3 L276.7,1022.3 L277.0,1020.3 L277.3,1018.3 L277.6,1016.3 L277.9,1014.4 L278.2,1012.4 L278.6,1010.4 L278.9,1008.4 L279.2,1006.4 L279.4,1004.5 L279.7,1002.5 L279.9,1000.5 L280.2,998.5 L280.4,996.5 L280.6,994.5 L280.8,992.5 L281.0,990.5 L281.2,988.5 L281.5,986.5 L281.7,984.5 L281.9,982.5 L282.1,980.5 L282.3,978.6 L282.5,976.6 L282.7,974.6 L282.9,972.6 L283.1,970.6 L283.3,968.6 L283.5,966.6 L283.7,964.6 L283.9,962.6 L284.1,960.6 L284.3,958.6 L284.5,956.6 L284.7,954.6 L284.9,952.6 L285.1,950.6 L285.3,948.6 L285.5,946.6 L285.6,944.6 L285.8,942.7 L286.0,940.7 L286.2,938.7 L286.4,936.7 L286.6,934.7 L286.8,932.7 L286.9,930.7 L287.1,928.7 L287.3,926.7 L287.5,924.7 L287.6,922.7 L287.8,920.7 L288.0,918.7 L288.1,916.7 L288.3,914.7 L288.5,912.7 L288.6,910.7 L288.8,908.7 L289.0,906.7 L289.1,904.7 L289.3,902.7 L289.5,900.7 L289.7,898.7 L289.9,896.7 L290.0,894.7 L290.2,892.7 L290.4,890.7 L290.6,888.7 L290.8,886.7 L291.0,884.8 L291.2,882.8 L291.4,880.8 L291.6,878.8 L291.8,876.8 L292.1,874.8 L292.3,872.8 L292.5,870.8 L292.7,868.8 L292.9,866.8 L293.2,864.8 L293.4,862.8 L293.6,860.8 L293.9,858.9 L294.1,856.9 L294.3,854.9 L294.5,852.9 L294.8,850.9 L295.0,848.9 L295.2,846.9 L295.5,844.9 L295.7,842.9 L296.0,840.9 L296.2,838.9 L296.4,837.0 L296.7,835.0 L296.9,833.0 L297.1,831.0 L297.4,829.0 L297.6,827.0 L297.9,825.0 L298.1,823.0 L298.3,821.0 L298.6,819.0 L298.8,817.1 L299.1,815.1 L299.3,813.1 L299.6,811.1 L299.8,809.1 L300.0,807.1 L300.3,805.1 L300.5,803.1 L300.8,801.1 L301.0,799.1 L301.2,797.2 L301.5,795.2 L301.7,793.2 L301.9,791.2 L302.2,789.2 L302.4,787.2 L302.6,785.2 L302.8,783.2 L303.1,781.2 L303.3,779.2 L303.5,777.2 L303.7,775.3 L304.0,773.3 L304.2,771.3 L304.4,769.3 L304.7,767.3 L304.9,765.3 L305.1,763.3 L305.4,761.3 L305.6,759.3 L305.9,757.3 L306.2,755.4 L306.4,753.4 L306.7,751.4 L307.0,749.4 L307.3,747.4 L307.6,745.4 L307.9,743.5 L308.2,741.5 L308.6,739.5 L308.9,737.5 L309.2,735.5 L309.6,733.6 L309.9,731.6 L310.3,729.6 L310.7,727.7 L311.0,725.7 L311.4,723.7 L311.8,721.8 L312.2,719.8 L312.6,717.8 L312.9,715.9 L313.3,713.9 L313.7,711.9 L314.1,710.0 L314.5,708.0 L315.0,706.0 L315.4,704.1 L315.8,702.1 L316.2,700.2 L316.6,698.2 L317.0,696.2 L317.5,694.3 L317.9,692.3 L318.3,690.4 L318.7,688.4 L319.2,686.4 L319.6,684.5 L320.0,682.5 L320.5,680.6 L320.9,678.6 L321.4,676.7 L321.8,674.7 L322.2,672.7 L322.7,670.8 L323.2,668.8 L323.6,666.9 L324.1,664.9 L324.6,663.0 L325.0,661.1 L325.5,659.1 L326.0,657.2 L326.5,655.2 L327.0,653.3 L327.5,651.3 L328.0,649.4 L328.5,647.4 L329.0,645.5 L329.5,643.6 L330.0,641.6 L330.5,639.7 L331.0,637.8 L331.5,635.8 L332.1,633.9 L332.6,631.9 L333.1,630.0 L333.6,628.1 L334.2,626.1 L334.7,624.2 L335.3,622.3 L335.8,620.4 L336.3,618.4 L336.9,616.5 L337.5,614.6 L338.0,612.7 L338.6,610.7 L339.2,608.8 L339.8,606.9 L340.3,605.0 L340.9,603.1 L341.5,601.2 L342.1,599.2 L342.8,597.3 L343.4,595.4 L344.0,593.5 L344.6,591.6 L345.3,589.7 L345.9,587.8 L346.5,585.9 L347.2,584.0 L347.9,582.1 L348.5,580.2 L349.2,578.4 L349.9,576.5 L350.5,574.6 L351.2,572.7 L351.9,570.8 L352.6,568.9 L353.3,567.1 L354.0,565.2 L354.7,563.3 L355.5,561.4 L356.2,559.6 L357.0,557.7 L357.9,555.9 L358.8,554.2 L359.8,552.5 L360.9,550.8 L361.9,549.0 L362.9,547.3 L363.8,545.5 L364.8,543.8 L365.8,542.0 L366.8,540.3 L367.8,538.6 L368.9,536.9 L370.0,535.2 L371.1,533.5 L372.3,531.9 L373.5,530.3 L374.8,528.8 L376.1,527.3 L377.4,525.8 L378.8,524.4 L380.3,522.9 L381.7,521.6 L383.2,520.2 L384.6,518.8 L386.1,517.5 L387.6,516.1 L389.1,514.8 L390.7,513.5 L392.2,512.2 L393.8,511.0 L395.4,509.9 L397.1,508.8 L398.8,507.8 L400.5,506.8 L402.2,505.7 L403.9,504.7 L405.7,503.9 L407.6,503.2 L409.5,502.7 L411.5,502.2 L413.4,501.9 L415.4,501.6 L417.4,501.4 L419.4,501.4 L421.4,501.4 L423.4,501.6 L425.4,501.8 L427.4,502.2 L429.3,502.6 L431.2,503.1 L433.1,503.8 L435.0,504.5 L436.8,505.3 L438.6,506.2 L440.3,507.2 L442.0,508.4 L443.5,509.6 L445.0,511.0 L446.3,512.5 L447.5,514.1 L448.6,515.7 L449.6,517.5 L450.4,519.3 L451.1,521.2 L451.6,523.1 L452.0,525.1 L452.3,527.0 L452.6,529.0 L452.9,531.0 L453.2,533.0 L453.4,535.0 L453.6,537.0 L453.8,539.0 L454.0,541.0 L454.2,543.0 L454.3,545.0 L454.4,547.0 L454.5,549.0 L454.5,551.0 L454.6,553.0 L454.6,555.0 L454.7,557.0 L454.7,559.0 L454.8,561.0 L454.8,563.0 L454.9,565.0 L454.9,567.0 L455.0,569.0 L455.0,571.0 L455.1,573.0 L455.2,575.0 L455.3,577.0 L455.4,579.0 L455.5,581.0 L455.6,583.0 L455.7,585.0 L455.8,587.0 L455.9,589.0 L456.1,591.0 L456.2,593.0 L456.4,595.0 L456.6,597.0 L456.7,599.0 L456.9,601.0 L457.0,603.0 L457.1,605.0 L457.3,607.0 L457.4,609.0 L457.5,611.0 L457.6,613.0 L457.7,615.0 L457.8,617.0 L457.9,619.0 L458.0,621.0 L458.1,623.0 L458.2,625.0 L458.3,627.0 L458.4,629.0 L458.5,631.0 L458.6,633.0 L458.7,635.0 L458.8,637.0 L458.9,639.0 L459.1,641.0 L459.2,643.0 L459.2,645.0 L459.3,647.0 L459.4,649.0 L459.5,651.0 L459.6,653.0 L459.7,655.1 L459.8,657.1 L459.9,659.1 L460.0,661.1 L460.1,663.1 L460.2,665.1 L460.4,667.1 L460.6,669.0 L460.9,671.0 L461.3,673.0 L461.7,674.9 L462.3,676.8 L463.1,678.7 L464.0,680.5 L465.0,682.2 L466.1,683.9 L467.2,685.5 L468.4,687.1 L469.7,688.6 L471.1,690.1 L472.5,691.5 L473.9,692.9 L475.4,694.3 L476.9,695.7 L478.3,697.0 L479.8,698.4 L481.3,699.7 L481.3,699.7 L489.2,697.6 L505.2,697.3 L516.1,694.4 L524.4,696.3 L534.0,697.9 L546.8,696.3 L559.6,693.8 L570.0,691.9 L580.0,690.4 L593.1,689.1 L619.4,689.1 L645.7,681.2 L658.9,679.3 L685.2,676.0 L711.5,674.0 L730.0,672.5 L751.9,669.6 L766.5,667.4 L792.8,667.4 L792.8,667.4 L794.8,667.8 L796.7,668.2 L798.7,668.7 L800.6,669.3 L802.5,670.0 L804.3,670.8 L806.1,671.8 L807.8,672.9 L809.4,674.1 L811.0,675.3 L812.7,676.4 L814.3,677.6 L816.0,678.7 L817.6,680.0 L819.1,681.3 L820.4,682.8 L821.6,684.4 L822.6,686.1 L823.5,687.9 L824.3,689.8 L825.0,691.7 L825.6,693.6 L826.1,695.5 L826.5,697.5 L826.9,699.5 L827.3,701.5 L827.6,703.5 L828.0,705.4 L828.3,707.4 L828.6,709.4 L828.9,711.4 L829.1,713.4 L829.4,715.4 L829.6,717.4 L829.9,719.4 L830.1,721.4 L830.3,723.4 L830.5,725.5 L830.6,727.5 L830.8,729.5 L831.0,731.5 L831.2,733.5 L831.4,735.5 L831.5,737.5 L831.7,739.5 L831.8,741.5 L832.0,743.5 L832.1,745.6 L832.3,747.6 L832.4,749.6 L832.5,751.6 L832.7,753.6 L832.8,755.6 L832.9,757.6 L833.0,759.7 L833.1,761.7 L833.1,763.7 L833.2,765.7 L833.3,767.7 L833.3,769.7 L833.3,771.8 L833.4,773.8 L833.4,775.8 L833.4,777.8 L833.5,779.8 L833.5,781.8 L833.5,783.9 L833.5,785.9 L833.5,787.9 L833.5,789.9 L833.5,791.9 L833.6,793.9 L833.6,796.0 L833.6,798.0 L833.6,800.0 L833.6,800.0 L834.2,1140.0" fill="none" stroke="#808000" stroke-width="8.6" stroke-linejoin="round" stroke-linecap="round" clip-path="url(#c1)"/>
<path d="M265.5,1045.5 L270.0,1039.5 L277.8,1039.0 L277.8,1039.0 L277.8,1037.0 L277.8,1035.0 L277.8,1033.0 L277.8,1031.0 L277.8,1029.0 L277.8,1027.0 L277.9,1025.0 L277.9,1023.0 L278.0,1021.0 L278.1,1019.0 L278.2,1017.0 L278.4,1015.0 L278.5,1013.0 L278.7,1011.0 L278.9,1009.0 L279.1,1007.0 L279.2,1005.0 L279.4,1003.0 L279.5,1001.0 L279.7,999.0 L279.8,997.0 L279.9,995.0 L280.0,993.0 L280.2,991.0 L280.3,989.1 L280.4,987.1 L280.5,985.1 L280.7,983.1 L280.8,981.1 L280.9,979.1 L281.0,977.1 L281.2,975.1 L281.3,973.1 L281.4,971.1 L281.5,969.1 L281.6,967.1 L281.8,965.1 L281.9,963.1 L282.0,961.1 L282.1,959.1 L282.2,957.1 L282.4,955.1 L282.5,953.1 L282.6,951.1 L282.7,949.1 L282.9,947.1 L283.0,945.1 L283.1,943.1 L283.2,941.1 L283.3,939.1 L283.5,937.1 L283.6,935.1 L283.7,933.1 L283.8,931.1 L283.9,929.1 L284.1,927.1 L284.2,925.1 L284.3,923.1 L284.4,921.1 L284.5,919.1 L284.6,917.1 L284.8,915.1 L284.9,913.1 L285.0,911.1 L285.1,909.1 L285.2,907.1 L285.4,905.1 L285.5,903.1 L285.6,901.1 L285.7,899.1 L285.9,897.1 L286.0,895.1 L286.1,893.2 L286.3,891.2 L286.4,889.2 L286.5,887.2 L286.6,885.2 L286.8,883.2 L286.9,881.2 L287.1,879.2 L287.2,877.2 L287.3,875.2 L287.5,873.2 L287.6,871.2 L287.8,869.2 L287.9,867.2 L288.1,865.2 L288.2,863.2 L288.4,861.2 L288.5,859.2 L288.7,857.2 L288.8,855.2 L289.0,853.2 L289.1,851.2 L289.3,849.2 L289.4,847.2 L289.6,845.2 L289.7,843.2 L289.9,841.2 L290.0,839.2 L290.2,837.3 L290.3,835.3 L290.5,833.3 L290.6,831.3 L290.8,829.3 L290.9,827.3 L291.1,825.3 L291.2,823.3 L291.4,821.3 L291.5,819.3 L291.7,817.3 L291.8,815.3 L292.0,813.3 L292.1,811.3 L292.3,809.3 L292.4,807.3 L292.6,805.3 L292.7,803.3 L292.9,801.3 L293.0,799.3 L293.2,797.3 L293.3,795.3 L293.5,793.3 L293.6,791.3 L293.8,789.4 L293.9,787.4 L294.1,785.4 L294.2,783.4 L294.4,781.4 L294.5,779.4 L294.7,777.4 L294.8,775.4 L294.9,773.4 L295.1,771.4 L295.2,769.4 L295.4,767.4 L295.5,765.4 L295.7,763.4 L295.8,761.4 L296.0,759.4 L296.1,757.4 L296.3,755.4 L296.4,753.4 L296.6,751.4 L296.7,749.4 L296.9,747.4 L297.0,745.4 L297.2,743.4 L297.4,741.4 L297.5,739.5 L297.7,737.5 L297.9,735.5 L298.0,733.5 L298.2,731.5 L298.4,729.5 L298.6,727.5 L298.7,725.5 L298.9,723.5 L299.1,721.5 L299.3,719.5 L299.5,717.5 L299.6,715.5 L299.8,713.5 L300.0,711.5 L300.2,709.5 L300.4,707.6 L300.6,705.6 L300.7,703.6 L300.9,701.6 L301.1,699.6 L301.3,697.6 L301.5,695.6 L301.7,693.6 L301.8,691.6 L302.0,689.6 L302.2,687.6 L302.4,685.6 L302.6,683.6 L302.8,681.6 L302.9,679.6 L303.1,677.7 L303.3,675.7 L303.5,673.7 L303.6,671.7 L303.8,669.7 L304.0,667.7 L304.1,665.7 L304.3,663.7 L304.5,661.7 L304.6,659.7 L304.8,657.7 L305.0,655.7 L305.1,653.7 L305.3,651.7 L305.5,649.7 L305.6,647.7 L305.8,645.7 L306.0,643.7 L306.2,641.8 L306.4,639.8 L306.5,637.8 L306.7,635.8 L306.9,633.8 L307.1,631.8 L307.3,629.8 L307.6,627.8 L307.8,625.8 L308.0,623.8 L308.2,621.8 L308.5,619.9 L308.7,617.9 L309.0,615.9 L309.2,613.9 L309.5,611.9 L309.7,609.9 L310.0,607.9 L310.2,606.0 L310.5,604.0 L310.7,602.0 L311.0,600.0 L311.2,598.0 L311.5,596.0 L311.7,594.0 L312.0,592.1 L312.2,590.1 L312.4,588.1 L312.7,586.1 L312.9,584.1 L313.2,582.1 L313.4,580.1 L313.7,578.1 L313.9,576.2 L314.1,574.2 L314.4,572.2 L314.6,570.2 L314.9,568.2 L315.1,566.2 L315.4,564.2 L315.7,562.3 L316.0,560.3 L316.3,558.3 L316.7,556.4 L317.2,554.4 L317.7,552.5 L318.2,550.5 L318.5,548.6 L318.8,546.6 L319.1,544.6 L319.3,542.6 L319.5,540.6 L319.8,538.7 L320.1,536.7 L320.4,534.7 L320.7,532.7 L321.0,530.7 L321.3,528.8 L321.6,526.8 L321.9,524.8 L322.2,522.8 L322.6,520.9 L322.9,518.9 L323.2,516.9 L323.5,514.9 L323.8,513.0 L324.1,511.0 L324.5,509.0 L324.8,507.0 L325.1,505.0 L325.4,503.1 L325.7,501.1 L326.0,499.1 L326.4,497.2 L326.8,495.2 L327.1,493.2 L327.5,491.3 L327.9,489.3 L328.3,487.3 L328.7,485.4 L329.2,483.4 L329.6,481.5 L330.0,479.5 L330.5,477.6 L330.9,475.6 L331.4,473.7 L331.9,471.7 L332.3,469.8 L332.8,467.8 L333.3,465.9 L333.8,464.0 L334.3,462.0 L334.9,460.1 L335.4,458.2 L335.9,456.2 L336.4,454.3 L336.8,452.3 L337.3,450.4 L337.7,448.4 L338.1,446.5 L338.6,444.5 L339.1,442.6 L339.6,440.6 L340.2,438.7 L340.8,436.8 L341.4,434.9 L342.0,433.0 L342.7,431.1 L343.3,429.2 L344.0,427.4 L344.7,425.5 L345.4,423.6 L346.1,421.7 L346.8,419.9 L347.6,418.0 L348.4,416.2 L349.2,414.4 L350.1,412.5 L350.9,410.7 L351.8,409.0 L352.8,407.2 L353.8,405.4 L354.8,403.7 L355.8,402.0 L357.0,400.4 L358.1,398.7 L359.3,397.1 L360.5,395.5 L361.8,394.0 L363.1,392.4 L364.4,390.9 L365.7,389.4 L367.0,387.9 L368.5,386.6 L370.0,385.3 L371.6,384.1 L373.3,383.2 L375.2,382.4 L377.0,381.7 L379.0,381.2 L380.9,380.8 L382.9,380.6 L384.9,380.6 L386.9,380.7 L388.9,380.8 L390.9,381.0 L392.8,381.3 L394.8,381.6 L396.8,382.0 L398.8,382.4 L400.7,382.8 L402.6,383.3 L404.6,383.9 L406.4,384.5 L408.3,385.2 L410.1,386.0 L412.0,386.9 L413.7,387.8 L415.5,388.8 L417.2,389.8 L418.9,390.8 L420.6,391.9 L422.3,393.0 L423.8,394.2 L425.4,395.5 L426.9,396.8 L428.3,398.2 L429.8,399.6 L431.1,401.1 L432.5,402.5 L433.8,404.0 L435.2,405.5 L436.5,407.0 L437.7,408.6 L438.9,410.2 L440.1,411.8 L441.2,413.5 L442.3,415.2 L443.3,416.9 L444.2,418.7 L445.1,420.4 L446.0,422.3 L446.8,424.1 L447.6,425.9 L448.3,427.8 L449.0,429.6 L449.7,431.5 L450.4,433.4 L451.0,435.3 L451.5,437.3 L452.0,439.2 L452.5,441.1 L453.0,443.1 L453.6,445.0 L454.2,446.9 L454.7,448.8 L455.1,450.8 L455.5,452.7 L455.8,454.7 L456.1,456.7 L456.4,458.7 L456.6,460.7 L456.9,462.6 L457.2,464.6 L457.4,466.6 L457.7,468.6 L457.9,470.6 L458.1,472.6 L458.3,474.6 L458.5,476.6 L458.7,478.5 L458.9,480.5 L459.1,482.5 L459.3,484.5 L459.4,486.5 L459.6,488.5 L459.7,490.5 L459.9,492.5 L460.0,494.5 L460.1,496.5 L460.2,498.5 L460.3,500.5 L460.4,502.5 L460.5,504.5 L460.5,506.5 L460.6,508.5 L460.7,510.5 L460.7,512.5 L460.7,514.5 L460.8,516.5 L460.8,518.5 L460.8,520.5 L460.8,522.5 L460.9,524.5 L460.9,526.5 L460.9,528.5 L460.9,530.5 L460.9,532.5 L460.9,534.5 L460.9,536.5 L460.9,538.5 L460.9,540.5 L460.9,542.5 L461.0,544.5 L461.0,546.5 L461.0,548.5 L461.0,550.5 L461.0,552.5 L461.0,554.5 L461.1,556.5 L461.1,558.5 L461.1,560.5 L461.1,562.5 L461.1,564.5 L461.2,566.6 L461.2,568.6 L461.2,570.6 L461.2,572.6 L461.2,574.6 L461.3,576.6 L461.3,578.6 L461.3,580.6 L461.3,582.6 L461.3,584.6 L461.3,586.6 L461.4,588.6 L461.4,590.6 L461.4,592.6 L461.4,594.6 L461.4,596.6 L461.5,598.6 L461.5,600.6 L461.5,602.6 L461.5,604.6 L461.5,606.6 L461.5,608.6 L461.6,610.6 L461.6,612.6 L461.6,614.6 L461.6,616.6 L461.6,618.6 L461.7,620.6 L461.7,622.6 L461.7,624.6 L461.7,626.6 L461.7,628.6 L461.7,630.6 L461.7,632.6 L461.8,634.6 L461.8,636.6 L461.8,638.6 L461.8,640.6 L461.8,642.6 L461.8,644.6 L461.8,646.6 L461.9,648.6 L461.9,650.6 L461.9,652.6 L461.9,654.6 L461.9,656.6 L461.9,658.6 L461.9,660.6 L461.9,662.6 L461.9,664.6 L461.9,666.6 L461.9,668.6 L461.9,670.6 L461.9,672.6 L462.0,674.6 L462.0,676.6 L462.0,678.6 L462.0,680.6 L462.0,682.6 L462.0,684.6 L462.0,686.6 L462.0,688.6 L462.0,690.6 L462.0,692.6 L462.0,694.6 L462.0,696.7 L462.0,698.7 L462.0,700.7 L462.0,702.7 L462.0,704.7 L462.0,706.7 L462.0,708.7 L462.0,710.7 L462.0,712.7 L462.0,714.7 L462.0,716.7 L462.0,718.7 L462.0,720.7 L462.0,722.7 L462.0,724.7 L462.0,726.7 L462.0,728.7 L462.1,730.7 L462.1,732.7 L462.1,734.7 L462.1,736.7 L462.1,738.7 L462.1,740.7 L462.1,742.7 L462.1,744.7 L462.1,746.7 L462.1,748.7 L462.1,750.7 L462.1,752.7 L462.1,754.7 L462.1,756.7 L462.1,758.7 L462.1,760.7 L462.1,762.7 L462.1,764.7 L462.1,766.7 L462.1,768.7 L462.1,770.7 L462.1,772.7 L462.1,774.7 L462.1,776.7 L462.1,778.7 L462.1,780.7 L462.1,782.7 L462.1,784.7 L462.1,786.7 L462.1,788.7 L462.1,790.7 L462.1,792.7 L462.1,794.7 L462.1,796.7 L462.1,798.7 L462.1,800.7 L462.1,802.7 L462.2,804.7 L462.2,806.7 L462.2,808.7 L462.2,810.7 L462.2,812.7 L462.2,814.7 L462.2,816.7 L462.2,818.7 L462.2,820.7 L462.2,822.8 L462.2,824.8 L462.2,826.8 L462.2,828.8 L462.2,830.8 L462.2,832.8 L462.2,834.8 L462.2,836.8 L462.2,838.8 L462.2,840.8 L462.2,842.8 L462.2,844.8 L462.2,846.8 L462.2,848.8 L462.2,850.8 L462.2,852.8 L462.2,854.8 L462.2,856.8 L462.2,858.8 L462.2,860.8 L462.2,862.8 L462.2,864.8 L462.2,866.8 L462.2,868.8 L462.2,870.8 L462.2,872.8 L462.2,874.8 L462.3,876.8 L462.3,878.8 L462.3,880.8 L462.3,882.8 L462.3,884.8 L462.3,886.8 L462.3,888.8 L462.3,890.8 L462.3,892.8 L462.3,894.8 L462.3,896.8 L462.3,898.8 L462.3,900.8 L462.3,902.8 L462.3,904.8 L462.3,906.8 L462.3,908.8 L462.3,910.8 L462.3,912.8 L462.3,914.8 L462.3,916.8 L462.3,918.8 L462.3,920.8 L462.3,922.8 L462.3,924.8 L462.3,926.8 L462.3,928.8 L462.3,930.8 L462.3,932.8 L462.3,934.8 L462.4,936.8 L462.4,938.8 L462.4,940.8 L462.4,942.8 L462.4,944.8 L462.4,946.8 L462.4,948.9 L462.4,950.9 L462.4,952.9 L462.4,954.9 L462.4,956.9 L462.4,958.9 L462.4,960.9 L462.4,962.9 L462.4,964.9 L462.4,966.9 L462.4,968.9 L462.4,970.9 L462.4,972.9 L462.4,974.9 L462.4,976.9 L462.4,978.9 L462.4,980.9 L462.5,982.9 L462.5,984.9 L462.5,986.9 L462.5,988.9 L462.5,990.9 L462.5,992.9 L462.5,994.9 L462.5,996.9 L462.5,998.9 L462.5,1000.9 L462.5,1002.9 L462.5,1004.9 L462.5,1006.9 L462.5,1008.9 L462.5,1010.9 L462.5,1012.9 L462.6,1014.9 L462.6,1016.9 L462.6,1018.9 L462.6,1020.9 L462.6,1022.9 L462.6,1024.9 L462.6,1026.9 L462.6,1028.9 L462.6,1030.9 L462.6,1032.9 L462.6,1034.9 L462.7,1036.9 L462.7,1038.9 L462.7,1040.9 L462.7,1042.9 L462.7,1044.9 L462.7,1046.9 L462.7,1048.9 L462.7,1050.9 L462.7,1052.9 L462.7,1054.9 L462.8,1056.9 L462.8,1058.9 L462.8,1060.9 L462.8,1062.9 L462.8,1064.9 L462.8,1066.9 L462.8,1068.9 L462.9,1070.9 L462.9,1072.9 L462.9,1075.0 L462.9,1077.0 L462.9,1079.0 L462.9,1081.0 L462.9,1083.0 L463.0,1085.0 L463.0,1087.0 L463.0,1089.0 L463.0,1091.0 L463.0,1093.0 L463.0,1095.0 L463.0,1097.0 L463.1,1099.0 L463.1,1101.0 L463.1,1103.0 L463.1,1105.0 L463.1,1107.0 L463.1,1109.0 L463.2,1111.0 L463.2,1113.0 L463.2,1115.0 L463.2,1117.0 L463.2,1119.0 L463.2,1121.0 L463.3,1123.0 L463.3,1125.0 L463.3,1127.0 L463.3,1129.0 L463.3,1131.0 L463.3,1133.0 L463.4,1135.0 L463.4,1137.0 L463.4,1139.0" fill="none" stroke="#000080" stroke-width="8.6" stroke-linejoin="round" stroke-linecap="round" clip-path="url(#c1)"/>
<path d="M463.4,1123.3 L494.5,1122.3" fill="none" stroke="#000080" stroke-width="8.6" stroke-linejoin="round" stroke-linecap="round" clip-path="url(#c1)"/>
<g font-family="'Liberation Serif', serif" font-weight="bold" font-size="66" letter-spacing="-2" fill="#000"><text x="224.5" y="1154.2" text-anchor="end">0</text><text x="224.5" y="1017.3" text-anchor="end">10</text><text x="224.5" y="880.3" text-anchor="end">20</text><text x="224.5" y="743.4" text-anchor="end">30</text><text x="224.5" y="606.5" text-anchor="end">40</text><text x="224.5" y="469.5" text-anchor="end">50</text><text x="224.5" y="332.6" text-anchor="end">60</text><text x="224.5" y="195.6" text-anchor="end">70</text><text x="224.5" y="58.7" text-anchor="end">80</text><text x="244.0" y="1208" text-anchor="middle">0</text><text x="346.8" y="1208" text-anchor="middle">10</text><text x="449.6" y="1208" text-anchor="middle">20</text><text x="552.4" y="1208" text-anchor="middle">30</text><text x="655.2" y="1208" text-anchor="middle">40</text><text x="758.0" y="1208" text-anchor="middle">50</text><text x="1005.5" y="1208" text-anchor="middle" letter-spacing="-2.8">150</text><text x="1252.5" y="1208" text-anchor="middle" letter-spacing="-2.8">200</text><text x="1499.5" y="1208" text-anchor="middle" letter-spacing="-2.8">250</text></g>
<text font-family="'Liberation Serif', serif" font-weight="bold" font-size="100" x="575" y="1333.5" letter-spacing="-4.78">Elongation(%)</text>
<text font-family="'Liberation Serif', serif" font-weight="bold" font-size="100" transform="translate(85,621) rotate(-90)" x="0" y="0" text-anchor="middle">Stress(MPa)</text>
<line x1="727.3" y1="111.3" x2="832.5" y2="111.3" stroke="#000000" stroke-width="9" stroke-linecap="round"/>
<text font-family="'Liberation Serif', serif" font-weight="bold" font-size="51" x="844.5" y="127.7" letter-spacing="-2.27">PVDF</text>
<line x1="727.3" y1="174.0" x2="832.5" y2="174.0" stroke="#FF0000" stroke-width="9" stroke-linecap="round"/>
<text font-family="'Liberation Serif', serif" font-weight="bold" font-size="51" x="844.5" y="190.4" letter-spacing="-2.39">PVDF/CNTs=100/1</text>
<line x1="727.3" y1="236.7" x2="832.5" y2="236.7" stroke="#008080" stroke-width="9" stroke-linecap="round"/>
<text font-family="'Liberation Serif', serif" font-weight="bold" font-size="51" x="844.5" y="253.1" letter-spacing="-2.35">nano-PVDF/IL=100/10</text>
<line x1="727.3" y1="299.4" x2="832.5" y2="299.4" stroke="#FF00FF" stroke-width="9" stroke-linecap="round"/>
<text font-family="'Liberation Serif', serif" font-weight="bold" font-size="51" x="844.5" y="315.8" letter-spacing="-2.27">PVDF/IL-CNTs=100/10-1</text>
<line x1="727.3" y1="362.1" x2="832.5" y2="362.1" stroke="#808000" stroke-width="9" stroke-linecap="round"/>
<text font-family="'Liberation Serif', serif" font-weight="bold" font-size="51" x="844.5" y="378.5" letter-spacing="-2.09">ir-PVDF/IL-CNTs=100/10-1</text>
<line x1="727.3" y1="424.8" x2="832.5" y2="424.8" stroke="#000080" stroke-width="9" stroke-linecap="round"/>
<text font-family="'Liberation Serif', serif" font-weight="bold" font-size="51" x="844.5" y="441.2" letter-spacing="-2.29">nano-PVDF/IL-CNTs=100/10-1</text>
</svg>
</body></html>
